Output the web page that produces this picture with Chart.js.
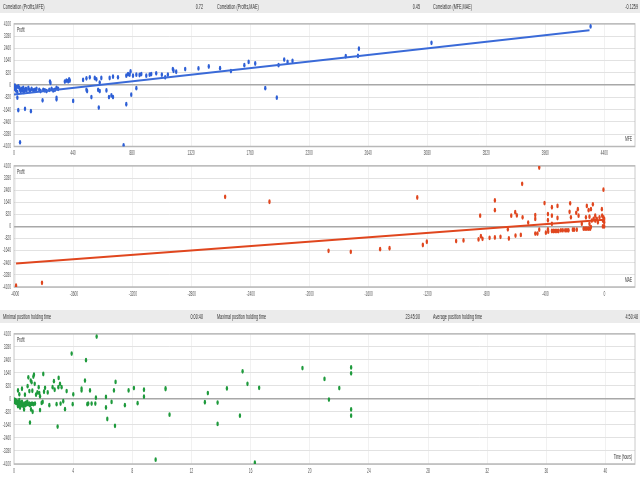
<!DOCTYPE html>
<html>
<head>
  <script src="https://cdn.jsdelivr.net/npm/chart.js@4.4.1/dist/chart.umd.min.js"></script>
<style>
  body { margin: 0; background: #fff; overflow: hidden; }
  #wrap { position: absolute; left: 0; top: 0; width: 1280px; height: 480px; transform: scaleX(0.5); transform-origin: 0 0; }
  .bar { position: absolute; left: 0; width: 1280px; height: 13px; background: #ebebeb; font: 7.5px "Liberation Sans", Arial, sans-serif; color: #333; line-height: 13px; }
  .bar span { position: absolute; top: 0; }
  canvas { position: absolute; left: 0; }
</style>
</head>
<body>
<div id="wrap">
  <div class="bar" id="bar1" style="top:0"></div>
  <canvas id="c1" width="1280" height="146" style="top:14px"></canvas>
  <canvas id="c2" width="1280" height="144" style="top:156px"></canvas>
  <div class="bar" id="bar3" style="top:310px"></div>
  <canvas id="c3" width="1280" height="156" style="top:324px"></canvas>
</div>
<script>
  // header texts
  var topLabels = ['Correlation (Profits,MFE)', 'Correlation (Profits,MAE)', 'Correlation (MFE,MAE)'];
  var topValues = ['0.72', '0.45', '-0.1259'];
  var timeLabels = ['Minimal position holding time', 'Maximal position holding time', 'Average position holding time'];
  var timeValues = ['0:00:40', '23:45:00', '4:50:48'];

  // axis ticks
  var profitTicks = [-4100, -3280, -2460, -1640, -820, 0, 820, 1640, 2460, 3280, 4100];
  var mfeTicks = [0, 440, 880, 1320, 1760, 2200, 2640, 3080, 3520, 3960, 4400];
  var maeTicks = [-4000, -3600, -3200, -2800, -2400, -2000, -1600, -1200, -800, -400, 0];
  var hourTicks = [0, 4, 8, 12, 16, 20, 24, 28, 32, 36, 40];

  // [MFE, profit]
  var mfeTrades = [
    [7,-22],[7,-242],[15,-352],[20,-132],[25,-461],[32,-88],[40,-176],[45,-308],[50,-395],[57,-242],
    [64,-352],[69,-176],[74,-461],[82,-308],[89,-242],[94,-352],[107,-176],[114,-308],[119,-395],[131,-242],
    [144,-352],[156,-308],[168,-242],[188,-308],[198,-395],[218,-308],[230,-352],[243,-395],[263,-308],[280,-242],
    [292,-352],[305,-308],[317,-176],[329,-242],
    [268,242],[272,154],[379,242],[391,308],[404,264],[416,308],[411,395],
    [25,-835],[32,-1670],[82,-1582],[126,-1736],[213,-1011],[317,-945],[317,-857],[441,-1055],[45,-3823],
    [515,352],[540,461],[565,527],[602,483],[614,395],[651,483],[639,176],[713,483],[738,571],[775,527],
    [837,637],[862,703],[869,923],[850,747],[887,637],[912,703],[936,681],[949,747],[986,637],[1011,703],
    [1023,747],[1060,791],[1102,703],[1127,527],[1147,703],[1184,1077],[1189,967],[1209,901],[1276,1077],[1375,1120],
    [1452,1252],[1536,1142],[1617,945],[1717,1340],[1749,1560],[1798,1450],[1972,1340],[2014,1714],[2039,1560],[2076,1626],
    [540,-308],[545,-395],[577,-791],[627,-308],[632,-1494],[639,-395],[689,-352],[708,-791],[726,-681],[738,-791],
    [837,-1274],[874,-637],[912,-198],[817,-4020],[1873,-198],[1959,-835],
    [2473,1937],[2564,1957],[2571,2438],[3112,2834],[4298,3934]
  ];
  var mfeTrend = [[0,-615],[4290,3675]];

  // [MAE, profit]
  var maeTrades = [
    [-2574,2003],[-2273,1672],[-3993,-4012],[-3817,-3814],
    [-1872,-1652],[-1721,-1718],[-1522,-1542],[-1458,-1476],[-1270,1961],[-1232,-1256],[-1205,-1035],[-1006,-991],
    [-956,-947],[-854,-881],[-843,727],[-838,-661],[-827,-837],[-779,-771],[-743,1762],[-743,1101],[-743,-749],
    [-705,-705],[-655,-198],[-648,-815],[-632,727],[-605,969],[-603,-617],[-594,749],[-567,-573],[-558,2886],
    [-555,617],[-517,264],[-469,771],[-469,507],[-469,-485],[-454,-485],[-442,3987],[-442,-220],[-406,1586],
    [-397,-419],[-383,837],[-383,419],[-383,-198],[-381,-352],[-356,1300],[-356,727],[-356,176],[-356,-308],
    [-345,-308],[-334,-308],[-322,-308],[-318,1388],[-318,573],[-311,-308],[-295,-264],[-282,-264],[-266,-264],
    [-254,-264],[-243,-264],[-236,991],[-232,1564],[-227,617],[-214,-220],[-205,-220],[-191,925],[-187,-220],
    [-180,1168],[-175,727],[-153,176],[-141,-154],[-130,-154],[-125,617],[-119,1388],[-119,-154],[-107,-154],
    [-107,1101],[-101,661],[-101,176],[-96,-154],[-91,1168],[-91,-44],[-85,397],[-78,1498],[-73,507],[-62,727],
    [-62,397],[-51,507],[-44,286],[-33,617],[-17,1168],[-15,727],[-10,397],[-10,0],[-6,2489],[-6,617],
    [-1,507],[-1,286],[-1,0]
  ];
  var maeTrend = [[-3993,-2510],[0,460]];

  // [hours, profit]
  var timeTrades = [
    [0.02,-41],[0.05,-186],[0.09,-83],[0.14,-248],[0.18,-145],[0.23,-290],[0.27,-455],[0.29,-186],[0.34,-331],[0.36,-83],
    [0.41,-538],[0.45,-248],[0.50,-393],[0.54,-186],[0.59,-290],[0.63,-455],[0.68,-662],[0.72,-290],[0.77,-393],[0.81,-248],
    [0.86,-331],[0.90,-186],[0.97,-331],[1.04,-290],[1.08,-393],[1.15,-331],[1.22,-290],[1.26,-807],[1.31,-331],[1.42,-290],
    [0.27,538],[0.36,290],[0.54,642],[0.74,269],[0.92,807],[0.97,1366],[1.04,497],[1.13,1159],[1.19,1056],[1.24,518],
    [1.31,1408],[1.35,1532],[1.40,952],[1.49,269],[1.58,414],[1.67,745],[1.71,373],[1.76,166],[1.76,-704],[1.87,-248],
    [1.94,-186],[1.98,1573],[2.03,455],[2.10,704],[2.28,414],[2.39,-393],[2.61,745],[2.70,1118],[2.75,580],[2.88,-331],
    [3.00,745],[3.02,1325],[3.11,952],[3.15,-290],[3.22,745],[3.33,-145],[3.45,-642],[3.56,497],[3.97,-331],[4.01,290],
    [3.90,2857],[4.57,642],[4.57,538],[4.80,1159],[4.87,2443],[4.96,-331],[5.02,-290],[5.14,538],[5.25,-290],[5.50,-290],
    [5.54,83],[5.59,3933],[6.22,124],[6.22,-538],[6.31,-1263],[6.60,-186],[6.76,538],[6.83,-1697],[6.87,1076],[7.50,-393],
    [7.75,538],[8.11,683],[8.36,-269],[8.79,145],[8.79,580],[9.58,-3830],[10.25,662],[10.25,621],[10.52,-994],[12.91,-207],
    [13.11,373],[13.77,-228],[13.77,-1573],[14.40,662],[15.28,-1056],[15.46,1739],[15.79,952],[16.29,-4016],[16.58,704],[19.51,1946],
    [1.08,-1490],[2.95,-1739],[1.15,-662],
    [21.0,1263],[21.3,-41],[22.0,683],[22.8,1987],[22.8,1615],[22.8,-662],[22.8,-1056]
  ];

  function fillBar(id, labels, values) {
    var bar = document.getElementById(id);
    var lefts = [6, 434, 866];
    var rights = [874, 440, 4];
    for (var i = 0; i < 3; i++) {
      var a = document.createElement('span');
      a.textContent = labels[i];
      a.style.left = lefts[i] + 'px';
      bar.appendChild(a);
      var b = document.createElement('span');
      b.textContent = values[i];
      b.style.right = rights[i] + 'px';
      bar.appendChild(b);
    }
  }
  fillBar('bar1', topLabels, topValues);
  fillBar('bar3', timeLabels, timeValues);

  Chart.defaults.font.family = '"Liberation Sans", Arial, sans-serif';
  Chart.defaults.font.size = 6.5;
  Chart.defaults.color = '#555';

  var frame = {
    id: 'frame',
    beforeDatasetsDraw: function (chart, args, opts) {
      var a = chart.chartArea, c = chart.ctx;
      c.save();
      c.strokeStyle = '#b8b8b8';
      c.lineWidth = 1.5;
      c.strokeRect(a.left, a.top, a.right - a.left, a.bottom - a.top);
      c.fillStyle = '#333';
      c.font = '6.5px "Liberation Sans", Arial, sans-serif';
      c.textAlign = 'left';
      c.textBaseline = 'top';
      c.fillText('Profit', a.left + 6, a.top + 3);
      c.textAlign = 'right';
      c.textBaseline = 'bottom';
      c.fillText(opts.xTitle, a.right - 6, a.bottom - 4);
      c.restore();
    }
  };

  function pts(list) {
    return list.map(function (p) { return { x: p[0], y: p[1] }; });
  }

  function makeChart(id, trades, trend, color, lineColor, xTicks, xMin, xMax, xTitle, padTop, xHeight) {
    var sets = [];
    if (trend) {
      sets.push({ data: pts(trend), showLine: true, borderColor: lineColor, borderWidth: 2, pointRadius: 0 });
    }
    sets.push({ data: pts(trades), backgroundColor: color, borderWidth: 0, pointRadius: 2.4 });
    return new Chart(document.getElementById(id), {
      type: 'scatter',
      data: { datasets: sets },
      plugins: [frame],
      options: {
        responsive: false,
        animation: false,
        layout: { padding: { top: padTop, right: 10, left: 0, bottom: 0 } },
        plugins: { legend: { display: false }, tooltip: { enabled: false }, frame: { xTitle: xTitle } },
        scales: {
          x: {
            type: 'linear', min: xMin, max: xMax,
            afterBuildTicks: function (s) { s.ticks = xTicks.map(function (v) { return { value: v }; }); },
            afterFit: function (s) { s.height = xHeight; },
            ticks: { padding: 3, maxRotation: 0, autoSkip: false, callback: function (v) { return String(v); } },
            grid: { color: '#e2e2e2', drawTicks: false },
            border: { display: false }
          },
          y: {
            type: 'linear', min: -4100, max: 4100,
            afterBuildTicks: function (s) { s.ticks = profitTicks.map(function (v) { return { value: v }; }); },
            afterFit: function (s) { s.width = 28; },
            ticks: { padding: 6, autoSkip: false, callback: function (v) { return String(v); } },
            grid: {
              drawTicks: false,
              color: function (c) { return c.tick && c.tick.value === 0 ? '#a8a8a8' : '#e2e2e2'; },
              lineWidth: function (c) { return c.tick && c.tick.value === 0 ? 1.5 : 1; }
            },
            border: { display: false }
          }
        }
      }
    });
  }

  makeChart('c1', mfeTrades, mfeTrend, '#2d5fd6', '#3a6ad8', mfeTicks, 0, 4629, 'MFE', 8.5, 13.5);
  makeChart('c2', maeTrades, maeTrend, '#e0461e', '#e0461e', maeTicks, -4007, 208, 'MAE', 7, 13);
  makeChart('c3', timeTrades, null, '#1e9a3c', null, hourTicks, 0, 42, 'Time (hours)', 8, 16);
</script>
</body>
</html>
